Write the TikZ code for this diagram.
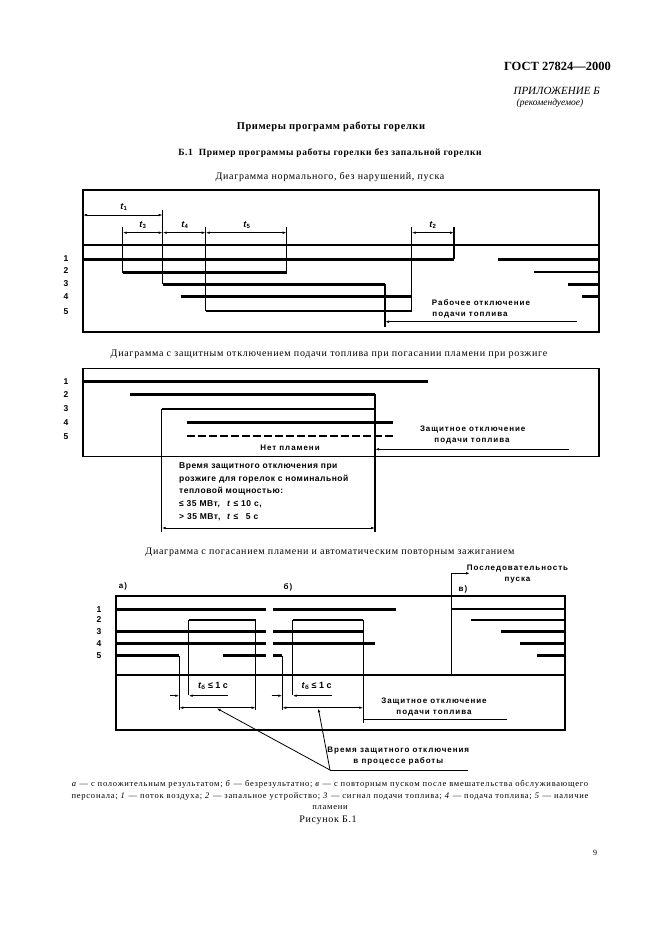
\documentclass[tikz,border=0pt]{standalone}
\usepackage{fontspec}
\setmainfont{Liberation Serif}
\setsansfont{Liberation Sans}
\usepackage{tikz}
\usetikzlibrary{arrows.meta}

\newcommand\lsp[1]{\addfontfeatures{LetterSpace=#1}}

\tikzset{
  frame/.style={line width=1.2pt},
  sig/.style={line width=2.8pt},
  sigdash/.style={line width=2pt, dash pattern=on 8pt off 3pt},
  dim/.style={line width=0.8pt, {Latex[length=4pt,width=2.6pt]}-{Latex[length=4pt,width=2.6pt]}},
  ptr/.style={line width=0.8pt, -{Latex[length=4pt,width=2.6pt]}},
  lbl/.style={font=\sffamily\bfseries\fontsize{8}{9}\selectfont\lsp{12}, inner sep=0pt},
  rowno/.style={font=\sffamily\bfseries\fontsize{8.5}{9}\selectfont, inner sep=0pt},
  tlbl/.style={font=\sffamily\bfseries\fontsize{9}{10}\selectfont, inner sep=0pt},
  body/.style={font=\fontsize{10}{12}\selectfont\lsp{7}, inner sep=0pt}
}

\begin{document}
\begin{tikzpicture}[x=1pt,y=-1pt]
  \useasboundingbox (0,0) rectangle (661,936);

  % Page head
  \node[font=\bfseries\fontsize{12.5}{14}\selectfont, anchor=east, inner sep=0pt] (gost) at (611,66) {ГОСТ 27824—2000};
  \node[font=\itshape\fontsize{11}{12}\selectfont, anchor=east, inner sep=0pt] (app) at (600,91) {ПРИЛОЖЕНИЕ Б};
  \node[font=\itshape\fontsize{9.5}{10}\selectfont, inner sep=0pt] (rec) at (550,103) {(рекомендуемое)};
  \node[font=\bfseries\fontsize{10.5}{12}\selectfont\lsp{5}, inner sep=0pt] (title) at (331,127) {Примеры программ работы горелки};
  \node[font=\bfseries\fontsize{9.5}{10}\selectfont\lsp{6}, inner sep=0pt] (sect) at (330,153) {Б.1\ \ Пример программы работы горелки без запальной горелки};

  % Diagram 1: normal start
  \node[body] (cap1) at (330,177) {Диаграмма нормального, без нарушений, пуска};
  \draw[frame] (83,190) rectangle (599,332);
  \foreach \n/\y in {1/259,2/271,3/284,4/297,5/312}
    \node[rowno] (a\n) at (66,\y) {\n};
  \draw[frame] (83,245) -- (599,245);
  \draw[sig] (83,259.3) -- (454,259.3);
  \draw[sig] (498,259.3) -- (599,259.3);
  \draw[sig] (122.7,272.7) -- (286.7,272.7);
  \draw[sig] (534,272) -- (599,272);
  \draw[sig] (162.7,284.3) -- (385,284.3);
  \draw[sig] (568,284.3) -- (599,284.3);
  \draw[sig] (180.7,296.7) -- (411.7,296.7);
  \draw[sig] (582,296.7) -- (599,296.7);
  \draw[sig] (205.7,311) -- (411.7,311);
  \draw[frame] (162.7,210) -- (162.7,284.3);
  \draw[frame] (122.7,227) -- (122.7,272.7);
  \draw[frame] (205.7,227) -- (205.7,311);
  \draw[frame] (286.7,227) -- (286.7,272.7);
  \draw[frame] (411.7,227) -- (411.7,311);
  \draw[frame] (454,227) -- (454,259.3);
  \draw[frame] (385,284.3) -- (385,327);
  % time intervals
  \draw[dim] (83,215) -- (162.7,215);
  \node[tlbl] (t1) at (124,207) {\textit{t}\textsubscript{1}};
  \draw[dim] (122.7,232.7) -- (162.7,232.7);
  \node[tlbl] (t3) at (143,225) {\textit{t}\textsubscript{3}};
  \draw[dim] (162.7,232.7) -- (205.7,232.7);
  \node[tlbl] (t4) at (185,225) {\textit{t}\textsubscript{4}};
  \draw[dim] (205.7,232.7) -- (286.7,232.7);
  \node[tlbl] (t5) at (247,225) {\textit{t}\textsubscript{5}};
  \draw[dim] (411.7,232.7) -- (454,232.7);
  \node[tlbl] (t2) at (433,225) {\textit{t}\textsubscript{2}};
  \node[lbl] (stop1a) at (481,302.7) {Рабочее отключение};
  \node[lbl] (stop1b) at (470,315) {подачи топлива};
  \draw[ptr] (576.7,321.7) -- (385,321.7);

  % Diagram 2: flame loss at ignition
  \node[body] (cap2) at (329,354) {Диаграмма с защитным отключением подачи топлива при погасании пламени при розжиге};
  \draw[frame] (83,368.3) rectangle (599,456.7);
  \foreach \n/\y in {1/381.7,2/394.3,3/409,4/422.3,5/436.7}
    \node[rowno] (b\n) at (66,\y) {\n};
  \draw[sig] (83,381.7) -- (428.3,381.7);
  \draw[sig] (130,394.3) -- (375,394.3);
  \draw[sig] (161.7,409) -- (375,409);
  \draw[sig] (186.7,422.3) -- (393.3,422.3);
  \draw[sigdash] (186.7,435.7) -- (393.3,435.7);
  \draw[frame] (375,394.3) -- (375,531.7);
  \draw[frame] (161.7,409) -- (161.7,531.7);
  \node[lbl] (noflame) at (290,447.3) {Нет пламени};
  \node[lbl] (stop2a) at (472.7,429.3) {Защитное отключение};
  \node[lbl] (stop2b) at (472,440.7) {подачи топлива};
  \draw[ptr] (569.3,449.3) -- (375,449.3);
  \node[lbl, anchor=north west, align=left, font=\sffamily\bfseries\fontsize{8.5}{12.65}\selectfont\lsp{6}] (safety) at (179,462.5)
    {Время защитного отключения при\\
     розжиге для горелок с номинальной\\
     тепловой мощностью:\\
     \makebox[48pt][l]{≤ 35 МВт,}\textit{t} ≤ 10 с,\\
     \makebox[48pt][l]{> 35 МВт,}\textit{t} ≤ \hphantom{1}5 с};
  \draw[dim] (161.7,528) -- (375,528);

  % Diagram 3: flame loss and automatic re-ignition
  \node[body] (cap3) at (330,552) {Диаграмма с погасанием пламени и автоматическим повторным зажиганием};
  \draw[frame] (116,596) rectangle (565,730);
  \draw[frame] (116,675) -- (565,675);
  \node[lbl] (ca) at (123,586) {а)};
  \node[lbl] (cb) at (288,587) {б)};
  \node[lbl] (cc) at (463,589) {в)};
  \foreach \n/\y in {1/609.3,2/620,3/631.7,4/643.3,5/655.7}
    \node[rowno] (c\n) at (99,\y) {\n};
  % case a
  \draw[sig] (116,609.3) -- (266,609.3);
  \draw[sig] (116,631.7) -- (266,631.7);
  \draw[sig] (116,643.3) -- (266,643.3);
  \draw[sig] (116,655.7) -- (179.3,655.7);
  \draw[sig] (222.7,655.7) -- (266,655.7);
  \draw[sig] (188.7,620) -- (255.7,620);
  \draw[frame] (188.7,620) -- (188.7,695);
  \draw[frame] (255.7,620) -- (255.7,710);
  \draw[frame] (179.3,655.7) -- (179.3,710);
  \draw[ptr] (170,695.7) -- (179.3,695.7);
  \draw[ptr] (227.7,695.7) -- (188.7,695.7);
  \node[tlbl] (t6a) at (213,686) {\textit{t}\textsubscript{б} ≤ 1 с};
  \draw[dim] (179.3,707.7) -- (255.7,707.7);
  % case b
  \draw[sig] (273.3,609.3) -- (395.7,609.3);
  \draw[sig] (273.3,631.7) -- (363.3,631.7);
  \draw[sig] (273.3,643.3) -- (375,643.3);
  \draw[sig] (273.3,655.7) -- (282.3,655.7);
  \draw[sig] (292.7,620) -- (363.3,620);
  \draw[frame] (292.7,620) -- (292.7,695);
  \draw[frame] (363.3,620) -- (363.3,723.3);
  \draw[frame] (282.3,655.7) -- (282.3,710);
  \draw[ptr] (271.7,695.7) -- (282.3,695.7);
  \draw[ptr] (331.7,695.7) -- (292.7,695.7);
  \node[tlbl] (t6b) at (316.7,686) {\textit{t}\textsubscript{б} ≤ 1 с};
  \draw[dim] (282.3,707.7) -- (363.3,707.7);
  \node[lbl] (stop3a) at (434,701.7) {Защитное отключение};
  \node[lbl] (stop3b) at (434,713.3) {подачи топлива};
  \draw[frame] (363.3,719.3) -- (506.7,719.3);
  % case c
  \node[lbl] (seqa) at (517.5,569) {Последовательность};
  \node[lbl] (seqb) at (517.5,580) {пуска};
  \draw[frame, -{Latex[length=4pt,width=2.6pt]}] (451.7,675) -- (451.7,573.3) -- (470,573.3);
  \draw[line width=2.2pt] (451.7,609.3) -- (565,609.3);
  \draw[sig] (471,620) -- (565,620);
  \draw[sig] (501,631.7) -- (565,631.7);
  \draw[sig] (520,643.3) -- (565,643.3);
  \draw[sig] (536.7,655.7) -- (565,655.7);
  % pointer to shutdown times
  \node[lbl] (runa) at (398.3,750.7) {Время защитного отключения};
  \node[lbl] (runb) at (398.3,761) {в процессе работы};
  \coordinate (runp) at (330,770);
  \draw[line width=0.8pt] (runp) -- (468.3,770);
  \draw[ptr] (runp) -- (216.7,708.3);
  \draw[ptr] (runp) -- (318.3,708.3);

  % Legend
  \node[font=\fontsize{8.5}{11.5}\selectfont\lsp{9}, align=center, inner sep=0pt] (legend) at (330,795)
    {\textit{а} — с положительным результатом; \textit{б} — безрезультатно; \textit{в} — с повторным пуском после вмешательства обслуживающего\\
     персонала; \textit{1} — поток воздуха; \textit{2} — запальное устройство; \textit{3} — сигнал подачи топлива; \textit{4} — подача топлива; \textit{5} — наличие\\
     пламени};
  \node[body] (fig) at (328,820) {Рисунок Б.1};
  \node[font=\fontsize{8}{9}\selectfont, inner sep=0pt] (page) at (595,853) {9};
\end{tikzpicture}
\end{document}
